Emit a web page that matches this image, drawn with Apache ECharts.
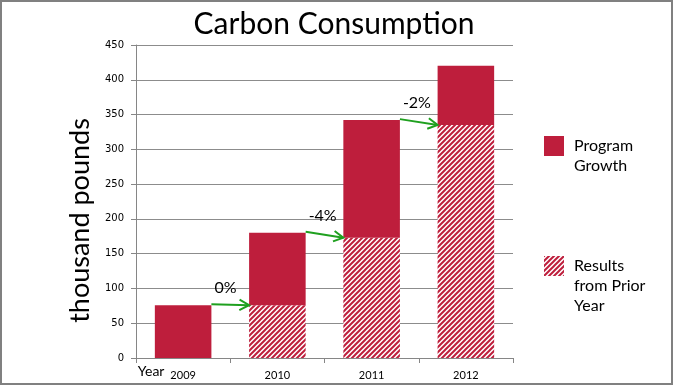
<!DOCTYPE html>
<html>
<head>
<meta charset="utf-8">
<script src="https://cdn.jsdelivr.net/npm/echarts@6/dist/echarts.min.js"></script>
<style>
html,body{margin:0;padding:0;background:#fff;}
#chart{width:674px;height:386px;}
</style>
</head>
<body>
<div id="chart"></div>
<script>
const categories = ['2009', '2010', '2011', '2012'];
const priorYear = [0, 76, 173, 335];
const programGrowth = [76, 104, 169, 85];
const totals = [76, 180, 342, 420];
const changeLabels = ['0%', '-4%', '-2%'];
const yTicks = [0, 50, 100, 150, 200, 250, 300, 350, 400, 450];

const RED = '#BE1E3C';
const GREEN = '#1FA01F';
const GOTHIC = 'Lato, "DejaVu Sans", sans-serif';

function makeHatch() {
  const s = 5;
  const c = document.createElement('canvas');
  c.width = s; c.height = s;
  const ctx = c.getContext('2d');
  ctx.fillStyle = '#ffffff';
  ctx.fillRect(0, 0, s, s);
  ctx.strokeStyle = RED;
  ctx.lineWidth = 2;
  ctx.beginPath();
  ctx.moveTo(0, s); ctx.lineTo(s, 0);
  ctx.moveTo(-1, 1); ctx.lineTo(1, -1);
  ctx.moveTo(s - 1, s + 1); ctx.lineTo(s + 1, s - 1);
  ctx.stroke();
  return c;
}
const hatch = { image: makeHatch(), repeat: 'repeat' };

// arrows: [fromIndex, toIndex, fromValue, toValue, labelIndex]
const arrowData = changeLabels.map((l, i) => [i, i + 1, totals[i], priorYear[i + 1], i]);

const chart = echarts.init(document.getElementById('chart'));
chart.setOption({
  animation: false,
  backgroundColor: '#fff',
  title: {
    text: 'Carbon Consumption',
    left: 329, textAlign: 'center', top: 4,
    textStyle: { fontFamily: GOTHIC, fontSize: 30, fontWeight: 'normal', color: '#000' }
  },
  grid: { left: 136, right: 161, top: 45, bottom: 28 },
  legend: [
    {
      data: [{ name: 'Program Growth', textStyle: { padding: [0, 0, 0, 5] } }],
      orient: 'vertical', left: 544, top: 116, padding: 0,
      icon: 'rect',
      itemWidth: 20, itemHeight: 20,
      textStyle: { fontFamily: GOTHIC, fontSize: 16, lineHeight: 20, color: '#000' },
      formatter: () => '\nProgram\nGrowth'
    },
    {
      data: [{ name: 'Results from Prior Year', textStyle: { padding: [0, 0, 0, 5] } }],
      orient: 'vertical', left: 544, top: 216, padding: 0,
      icon: 'rect',
      itemWidth: 20, itemHeight: 20,
      textStyle: { fontFamily: GOTHIC, fontSize: 16, lineHeight: 20, color: '#000' },
      formatter: () => '\n\nResults\nfrom Prior\nYear'
    }
  ],
  xAxis: {
    type: 'category',
    data: categories,
    name: 'Year',
    nameLocation: 'start',
    nameGap: -4,
    nameTextStyle: { fontFamily: GOTHIC, fontSize: 14, color: '#000', align: 'left', verticalAlign: 'top', padding: [6, 0, 0, 0] },
    axisLine: { lineStyle: { color: '#868686', width: 1 } },
    axisTick: { show: true, interval: 0, length: 5, lineStyle: { color: '#868686' } },
    axisLabel: { fontFamily: GOTHIC, fontSize: 11, color: '#000', margin: 12 }
  },
  yAxis: {
    type: 'value',
    min: yTicks[0], max: yTicks[yTicks.length - 1], interval: 50,
    name: 'thousand pounds',
    nameLocation: 'middle',
    nameGap: 42,
    nameTextStyle: { fontFamily: GOTHIC, fontSize: 27, color: '#000', padding: [0, 38, 0, 0] },
    axisLine: { show: true, lineStyle: { color: '#868686' } },
    axisTick: { show: true, length: 5, lineStyle: { color: '#868686' } },
    axisLabel: { fontFamily: '"DejaVu Sans", sans-serif', fontSize: 10, color: '#000', margin: 12 },
    splitLine: { lineStyle: { color: '#8c8c8c', width: 1 } }
  },
  series: [
    {
      name: 'Results from Prior Year', type: 'bar', stack: 'total',
      barWidth: '60%', data: priorYear,
      itemStyle: { color: hatch }
    },
    {
      name: 'Program Growth', type: 'bar', stack: 'total',
      barWidth: '60%', data: programGrowth,
      itemStyle: { color: RED }
    },
    {
      type: 'custom', name: 'arrows', silent: true, z: 5,
      data: arrowData,
      encode: { x: 0, y: 2 },
      renderItem: function (params, api) {
        const p0 = api.coord([api.value(0), api.value(2)]);
        const p1 = api.coord([api.value(1), api.value(3)]);
        const half = api.size([1, 0])[0] * 0.3;
        const x0 = p0[0] + half, y0 = p0[1] - 1;
        const x1 = p1[0] - half, y1 = p1[1];
        const ang = Math.atan2(y1 - y0, x1 - x0);
        const hl = 11, ha = 0.5;
        const hx1 = x1 - hl * Math.cos(ang - ha), hy1 = y1 - hl * Math.sin(ang - ha);
        const hx2 = x1 - hl * Math.cos(ang + ha), hy2 = y1 - hl * Math.sin(ang + ha);
        return {
          type: 'group',
          children: [
            { type: 'line', shape: { x1: x0, y1: y0, x2: x1, y2: y1 }, style: { stroke: GREEN, lineWidth: 2 } },
            { type: 'polyline', shape: { points: [[hx1, hy1], [x1, y1], [hx2, hy2]] }, style: { stroke: GREEN, lineWidth: 2, fill: null } },
            { type: 'text', x: x0 + 3, y: y0 - 8, style: { text: changeLabels[api.value(4)], fontFamily: GOTHIC, fontSize: 16, fill: '#000', align: 'left', verticalAlign: 'bottom' } }
          ]
        };
      }
    }
  ],
  graphic: [
    { type: 'rect', shape: { x: 1, y: 1, width: 671, height: 383 }, style: { fill: null, stroke: '#808080', lineWidth: 2 }, silent: true }
  ]
});
</script>
</body>
</html>
